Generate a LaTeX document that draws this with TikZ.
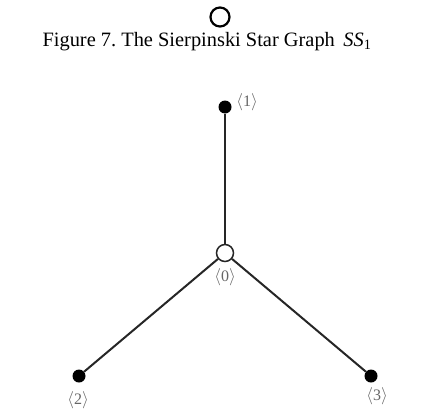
\documentclass[tikz,border=0pt]{standalone}
\usepackage{fontspec}
\setmainfont{Liberation Serif}
\begin{document}
\begin{tikzpicture}[x=1pt,y=-1pt,
  edge/.style={line width=2pt,black!85},
  fullvertex/.style={circle,fill=black,inner sep=0pt,minimum size=13pt},
  openvertex/.style={circle,draw=black!85,fill=white,line width=1.5pt,inner sep=0pt,minimum size=17pt},
  vlabel/.style={font=\fontsize{16}{18}\selectfont,text=black!60,inner sep=0pt}]
\useasboundingbox (0,0) rectangle (438,415);
% small ring above the caption
\node[circle,draw=black,line width=2.2pt,minimum size=19pt,inner sep=0pt] (ring) at (220,17) {};
\node[anchor=base,inner sep=0pt,font=\fontsize{20.4}{23}\selectfont] (caption) at (207,46)
  {Figure 7.\ The Sierpinski Star Graph \,\textit{SS}\textsubscript{1}};
% the vertices of SS_1
\node[fullvertex] (v1) at (225,107) {};
\node[openvertex] (v0) at (225,253) {};
\node[fullvertex] (v2) at (79,376) {};
\node[fullvertex] (v3) at (371,376) {};
% edges of the star
\draw[edge] (v0) -- (v1);
\draw[edge] (v0) -- (v2);
\draw[edge] (v0) -- (v3);
% vertex labels
\node[vlabel] (l1) at (247,102) {$\langle$1$\rangle$};
\node[vlabel] (l0) at (225,277) {$\langle$0$\rangle$};
\node[vlabel] (l2) at (78,400) {$\langle$2$\rangle$};
\node[vlabel] (l3) at (377,396) {$\langle$3$\rangle$};
\end{tikzpicture}
\end{document}
